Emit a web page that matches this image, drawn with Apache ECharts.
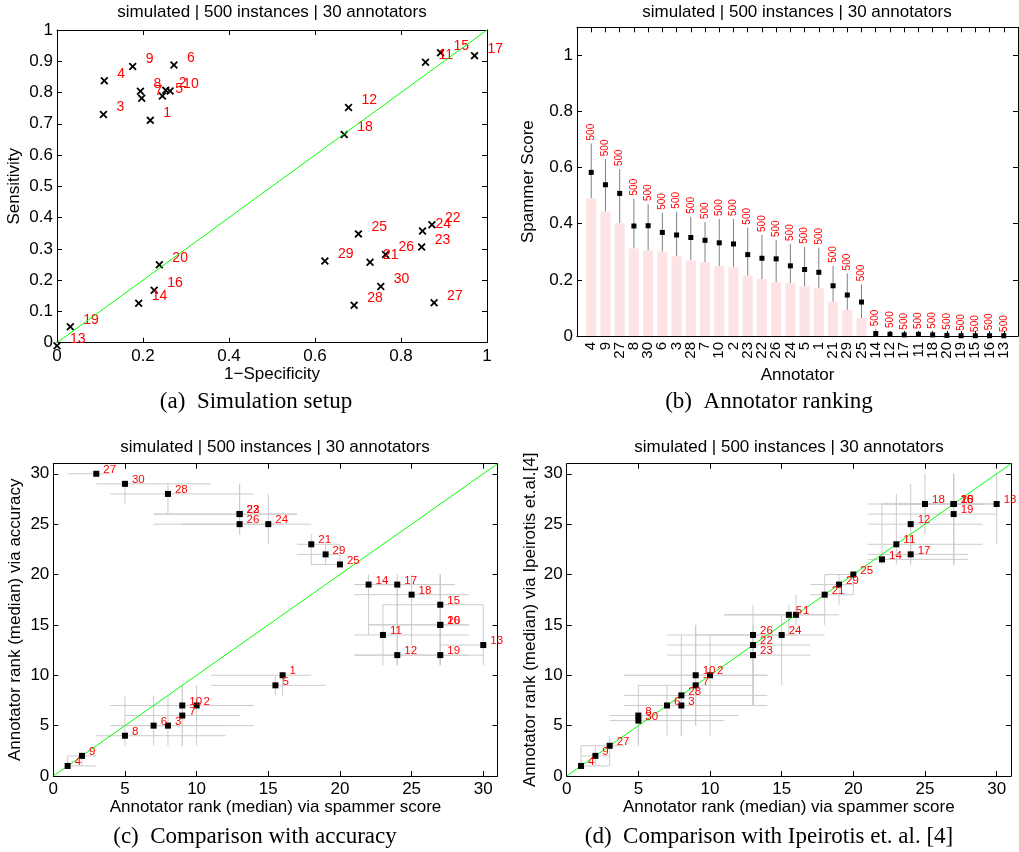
<!DOCTYPE html>
<html>
<head>
<meta charset="utf-8">
<script src="https://cdn.jsdelivr.net/npm/echarts@6/dist/echarts.min.js"></script>
<style>
html,body{margin:0;padding:0;background:#fff}
#main{width:1019px;height:852px}
</style>
</head>
<body>
<div id="main"></div>
<script>
// annotator ids 1..30
var annotators = [1,2,3,4,5,6,7,8,9,10,11,12,13,14,15,16,17,18,19,20,21,22,23,24,25,26,27,28,29,30];

// (a) simulation setup: 1-specificity / sensitivity per annotator
var fprA = [0.217,0.253,0.108,0.110,0.245,0.272,0.197,0.194,0.176,0.263,0.857,0.678,0.000,0.190,0.892,0.226,0.971,0.668,0.031,0.238,0.728,0.872,0.848,0.850,0.701,0.764,0.877,0.691,0.623,0.753];
var tprA = [0.711,0.807,0.730,0.838,0.789,0.888,0.782,0.804,0.883,0.805,0.897,0.752,-0.010,0.126,0.927,0.168,0.918,0.666,0.051,0.249,0.257,0.377,0.306,0.357,0.348,0.282,0.128,0.120,0.261,0.180];
var identityA = [0, 1];

// (b) annotator ranking (sorted by spammer score)
var rankOrder = [4,9,27,8,30,6,3,28,7,10,2,23,22,26,24,5,1,21,29,25,14,12,17,11,18,20,19,15,16,13];
var scoreLow  = [0.491,0.443,0.402,0.312,0.304,0.301,0.284,0.269,0.263,0.249,0.245,0.216,0.203,0.191,0.188,0.176,0.170,0.122,0.093,0.064,0,0,0,0,0,0,0,0,0,0];
var scoreMed  = [0.583,0.539,0.508,0.392,0.393,0.369,0.360,0.351,0.341,0.332,0.328,0.290,0.277,0.275,0.250,0.237,0.227,0.179,0.146,0.121,0.009,0.006,0.004,0.006,0.004,0.002,0.001,0.001,0.001,0.001];
var scoreHigh = [0.686,0.630,0.595,0.490,0.470,0.439,0.443,0.425,0.406,0.417,0.417,0.386,0.360,0.342,0.328,0.318,0.315,0.250,0.223,0.184,0.024,0.018,0.012,0.014,0.015,0.012,0.008,0.004,0.010,0.004];
var instCount = [500,500,500,500,500,500,500,500,500,500,500,500,500,500,500,500,500,500,500,500,500,500,500,500,500,500,500,500,500,500];

// (c),(d) rank via spammer score (median and range)
var rankSpam = [16,10,8,1,15.5,7,9,5,2,9,23,24,30,22,27,27,24,25,27,27,18,13,13,15,20,13,3,8,19,5];
var spamLo   = [11,4,4,1,11,4,5,3,1,4,21,21,27,21,23,22,21,21,21,22,17,7,7,7,18,9,1,4,17,3];
var spamHi   = [18,14,14,3,19,12,13,12,3,14,29,29,30,28,30,29,28,29,30,29,20,17,17,18,20,16,4,14,20,11];

// (c) rank via accuracy
var rankAcc = [10,7,5,1,9,5,6,4,2,7,14,12,13,19,17,15,19,18,12,15,23,26,26,25,21,25,30,28,22,29];
var accLo   = [8,3,3,1,8,3,3,3,1,3,11,11,11,14,11,11,11,13,11,11,21,24,24,23,21,24,30,26,21,27];
var accHi   = [10,9,8,2,10,8,9,8,2,9,17,19,17,20,20,20,20,20,16,20,24,29,29,28,23,26,30,29,23,29];

// (d) rank via Ipeirotis et al.
var rankIp = [16,10,7,1,16,7,9,6,2,10,23,25,27,21.5,27,27,22,27,26,27,18,13,12,14,20,14,3,8,19,5.5];
var ipLo   = [15,4,4,1,14,4,5,3,1,5,21,21,23,21,21,21,21,24,21,21,15,7,7,9,18,7,1,4,17,3];
var ipHi   = [18,14,9,3,17,9,15,6,3,15,28,29,30,27,30,30,24,30,30,30,20,15,14,16,20,17,4,14,20,9];
var identityR = [0, 31];

var FONT = 'Liberation Sans';
var SERIF = 'Liberation Serif';
var TITLE = 'simulated | 500 instances | 30 annotators';
var XMARK = 'path://M0,1.6L1.6,0L5,3.4L8.4,0L10,1.6L6.6,5L10,8.4L8.4,10L5,6.6L1.6,10L0,8.4L3.4,5Z';

function axis(gridIndex, pos, o, mirror) {
  return {
    type: 'value', gridIndex: gridIndex, position: pos,
    min: o.min, max: o.max, interval: o.interval,
    axisLine: {show: true, onZero: false, lineStyle: {color: '#000', width: 1}},
    axisTick: {show: true, inside: true, length: 5, lineStyle: {color: '#000'}},
    axisLabel: mirror ? {show: false} : {
      show: true, color: '#000', fontSize: o.fontSize || 17, fontFamily: FONT,
      margin: o.margin || 4, rotate: o.rotate || 0, formatter: o.formatter,
      showMaxLabel: o.showMax !== false, showMinLabel: true, hideOverlap: false
    },
    splitLine: {show: false},
    name: mirror ? '' : o.name, nameLocation: 'middle', nameGap: o.gap,
    nameTextStyle: {color: '#000', fontSize: 17, fontFamily: FONT}
  };
}

function crossBars(params, api) {
  var x = api.value(0), y = api.value(1);
  var a = api.coord([api.value(2), y]), b = api.coord([api.value(3), y]);
  var c = api.coord([x, api.value(4)]), d = api.coord([x, api.value(5)]);
  var st = {stroke: '#cccccc', lineWidth: 1};
  return {type: 'group', children: [
    {type: 'line', shape: {x1: a[0], y1: a[1], x2: b[0], y2: b[1]}, style: st},
    {type: 'line', shape: {x1: c[0], y1: c[1], x2: d[0], y2: d[1]}, style: st}
  ]};
}

function whisker(params, api) {
  var x = api.value(0);
  var p0 = api.coord([x, api.value(1)]), p1 = api.coord([x, api.value(2)]);
  return {type: 'group', children: [
    {type: 'line', shape: {x1: p0[0], y1: p0[1], x2: p1[0], y2: p1[1]}, style: {stroke: '#808080', lineWidth: 1}},
    {type: 'text', x: p1[0], y: p1[1] - 3, rotation: Math.PI / 2,
     style: {text: String(api.value(3)), fill: '#ff0000', font: '10px ' + FONT, align: 'left', verticalAlign: 'middle', textAlign: 'left', textVerticalAlign: 'middle'}}
  ]};
}

function rankPanel(xi, yRank, yLo, yHi) {
  var rows = annotators.map(function (a, i) {
    return [rankSpam[i], yRank[i], spamLo[i], spamHi[i], yLo[i], yHi[i]];
  });
  return [
    {type: 'custom', xAxisIndex: xi, yAxisIndex: xi, renderItem: crossBars, data: rows,
     encode: {x: [0, 2, 3], y: [1, 4, 5]}, silent: true, z: 1},
    {type: 'line', xAxisIndex: xi, yAxisIndex: xi, symbol: 'none', silent: true, z: 2,
     data: identityR.map(function (v) { return [v, v]; }),
     lineStyle: {color: '#00ff00', width: 1}},
    {type: 'scatter', xAxisIndex: xi, yAxisIndex: xi, symbol: 'rect', symbolSize: 6, z: 3,
     itemStyle: {color: '#000', opacity: 1},
     data: annotators.map(function (a, i) { return {name: String(a), value: [rankSpam[i], yRank[i]]}; }),
     label: {show: true, position: 'right', distance: 4, offset: [0, -4], formatter: '{b}',
             color: '#ff0000', fontSize: 11.5, fontFamily: FONT}}
  ];
}

function gtext(x, y, text, font) {
  return {type: 'text', x: x, y: y, silent: true,
    style: {text: text, font: font, fill: '#000', align: 'center', verticalAlign: 'middle', textAlign: 'center', textVerticalAlign: 'middle'}};
}

var chart = echarts.init(document.getElementById('main'), null, {renderer: 'canvas'});

var oa_x = {min: 0, max: 1, interval: 0.2, name: '1\u2212Specificity', gap: 21, margin: 5};
var oa_y = {min: 0, max: 1, interval: 0.1, name: 'Sensitivity', gap: 34};
var ob_x = {min: 0, max: 31, interval: 1, name: 'Annotator', gap: 31, rotate: 90, fontSize: 15, margin: 6,
  formatter: function (v) { return (v >= 1 && v <= 30) ? String(rankOrder[v - 1]) : ''; }};
var ob_y = {min: 0, max: 1.1, interval: 0.2, name: 'Spammer Score', gap: 40, showMax: false};
var oc_x = {min: 0, max: 31, interval: 5, name: 'Annotator rank (median) via spammer score', gap: 19, showMax: false, margin: 5};
var oc_y = {min: 0, max: 31, interval: 5, name: 'Annotator rank (median) via accuracy', gap: 29, showMax: false};
var od_y = {min: 0, max: 31, interval: 5, name: 'Annotator rank (median) via Ipeirotis et.al.[4]', gap: 28, showMax: false};

chart.setOption({
  animation: false,
  backgroundColor: '#fff',
  grid: [
    {left: 57, top: 30, width: 430, height: 312.7},
    {left: 577, top: 27.3, width: 441, height: 308.7},
    {left: 53.3, top: 463.7, width: 444.3, height: 312.3},
    {left: 566.7, top: 463.7, width: 444.3, height: 312.3}
  ],
  xAxis: [
    axis(0, 'bottom', oa_x), axis(0, 'top', oa_x, true),
    axis(1, 'bottom', ob_x), axis(1, 'top', ob_x, true),
    axis(2, 'bottom', oc_x), axis(2, 'top', oc_x, true),
    axis(3, 'bottom', oc_x), axis(3, 'top', oc_x, true)
  ],
  yAxis: [
    axis(0, 'left', oa_y), axis(0, 'right', oa_y, true),
    axis(1, 'left', ob_y), axis(1, 'right', ob_y, true),
    axis(2, 'left', oc_y), axis(2, 'right', oc_y, true),
    axis(3, 'left', od_y), axis(3, 'right', od_y, true)
  ],
  graphic: [
    gtext(272, 12, TITLE, '17px ' + FONT),
    gtext(797, 12, TITLE, '17px ' + FONT),
    gtext(275, 447, TITLE, '17px ' + FONT),
    gtext(789, 447, TITLE, '17px ' + FONT),
    gtext(256, 402, '(a)  Simulation setup', '23px ' + SERIF),
    gtext(769, 402, '(b)  Annotator ranking', '23px ' + SERIF),
    gtext(255, 837, '(c)  Comparison with accuracy', '23px ' + SERIF),
    gtext(769, 837, '(d)  Comparison with Ipeirotis et. al. [4]', '23px ' + SERIF)
  ],
  series: [
    // (a)
    {type: 'line', xAxisIndex: 0, yAxisIndex: 0, symbol: 'none', silent: true,
     data: identityA.map(function (v) { return [v, v]; }),
     lineStyle: {color: '#00ff00', width: 1}},
    {type: 'scatter', xAxisIndex: 0, yAxisIndex: 0, symbol: XMARK, symbolSize: 8, clip: false,
     itemStyle: {color: '#000', opacity: 1},
     data: annotators.map(function (a, i) { return {name: String(a), value: [fprA[i], tprA[i]]}; }),
     label: {show: true, position: 'right', distance: 9, offset: [0, -7], formatter: '{b}',
             color: '#ff0000', fontSize: 14, fontFamily: FONT}},
    // (b)
    {type: 'bar', xAxisIndex: 2, yAxisIndex: 2, barWidth: 10,
     itemStyle: {color: '#fde3e3'},
     data: rankOrder.map(function (a, i) { return [i + 1, scoreLow[i]]; })},
    {type: 'custom', xAxisIndex: 2, yAxisIndex: 2, renderItem: whisker, silent: true,
     encode: {x: 0, y: [1, 2]},
     data: rankOrder.map(function (a, i) { return [i + 1, scoreLow[i], scoreHigh[i], instCount[i]]; })},
    {type: 'scatter', xAxisIndex: 2, yAxisIndex: 2, symbol: 'rect', symbolSize: 5,
     itemStyle: {color: '#000', opacity: 1},
     data: rankOrder.map(function (a, i) { return [i + 1, scoreMed[i]]; })}
  ].concat(rankPanel(4, rankAcc, accLo, accHi), rankPanel(6, rankIp, ipLo, ipHi))
});
</script>
</body>
</html>
